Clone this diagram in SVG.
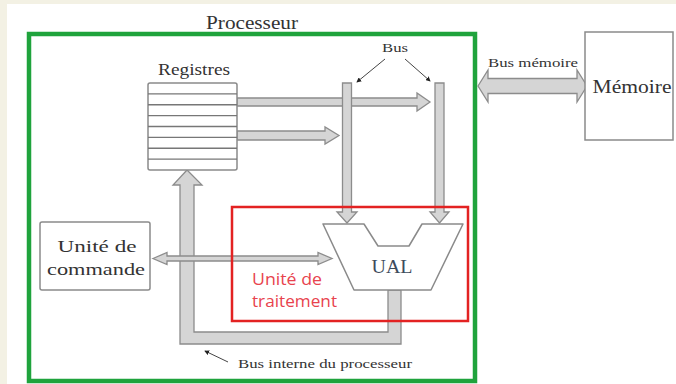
<svg xmlns="http://www.w3.org/2000/svg" width="676" height="384" viewBox="0 0 676 384">
<defs>
<style>
.lbl{font-family:"Liberation Serif","Times New Roman",serif;fill:#333;}
.bus{fill:#d5d5d5;stroke:#8c8c8c;stroke-width:1.3;stroke-linejoin:miter;}
.box{fill:#fff;stroke:#8a8a8a;stroke-width:1.5;}
.reg{stroke:#777;stroke-width:1.4;}
.ptr{stroke:#444;stroke-width:1;fill:none;}
</style>
<marker id="dot" viewBox="0 0 6 6" refX="5" refY="3" markerWidth="5" markerHeight="5" orient="auto" markerUnits="userSpaceOnUse">
<path d="M0,0 L6,3 L0,6 z" fill="#222"/>
</marker>
</defs>
<rect x="0" y="0" width="676" height="384" fill="#fff"/>
<rect x="0" y="0" width="676" height="4" fill="#f3f1e4"/>
<rect x="0" y="0" width="7" height="384" fill="#f3f1e4"/>

<g id="processeur">
<rect x="29" y="34" width="446" height="347" fill="none" stroke="#1fa33c" stroke-width="4.5"/>
<text class="lbl" x="252" y="29" font-size="19" text-anchor="middle" textLength="92" lengthAdjust="spacingAndGlyphs">Processeur</text>
</g>

<g id="connectors">
<!-- internal bus U-shape -->
<path class="bus" d="M401,290 L401,344 L180,344 L180,185 L173,185 L187,170 L202,185 L194,185 L194,332 L388,332 L388,290 Z"/>
<!-- register outputs -->
<path class="bus" d="M237,98 L417,98 L417,93 L430,102 L417,111 L417,106 L237,106 Z"/>
<path class="bus" d="M237,131 L325,131 L325,127 L339,135.5 L325,144 L325,140 L237,140 Z"/>
<!-- vertical buses -->
<path class="bus" d="M342.5,83 L351.5,83 L351.5,212 L357,212 L347,223 L337,212 L342.5,212 Z"/>
<path class="bus" d="M435,83 L444,83 L444,212 L449,212 L439.5,223 L430,212 L435,212 Z"/>
<!-- commande <-> UAL -->
<path class="bus" d="M153,258.5 L167,252.5 L167,256 L318,256 L318,252.5 L332,258.5 L318,264.5 L318,261 L167,261 L167,264.5 Z"/>
<!-- memory bus -->
<path class="bus" d="M478,86 L488,70 L488,78.5 L577,78.5 L577,70 L587,86 L577,102 L577,93.5 L488,93.5 L488,102 Z"/>
<!-- Bus pointers -->
<line class="ptr" x1="385" y1="59" x2="357" y2="82" marker-end="url(#dot)"/>
<line class="ptr" x1="405" y1="59" x2="430" y2="81" marker-end="url(#dot)"/>
<line class="ptr" x1="228" y1="362" x2="205" y2="351" marker-end="url(#dot)"/>
<text class="lbl" x="395" y="52" font-size="13" text-anchor="middle" textLength="26" lengthAdjust="spacingAndGlyphs">Bus</text>
<text class="lbl" x="533" y="67" font-size="13" text-anchor="middle" textLength="90" lengthAdjust="spacingAndGlyphs">Bus mémoire</text>
<text class="lbl" x="238" y="368" font-size="13.5" textLength="174" lengthAdjust="spacingAndGlyphs">Bus interne du processeur</text>
</g>

<g id="registres">
<rect class="box" x="148" y="83" width="89" height="87" rx="2" stroke="#777"/>
<line class="reg" x1="148" y1="93.9" x2="237" y2="93.9"/>
<line class="reg" x1="148" y1="104.8" x2="237" y2="104.8"/>
<line class="reg" x1="148" y1="115.6" x2="237" y2="115.6"/>
<line class="reg" x1="148" y1="126.5" x2="237" y2="126.5"/>
<line class="reg" x1="148" y1="137.4" x2="237" y2="137.4"/>
<line class="reg" x1="148" y1="148.3" x2="237" y2="148.3"/>
<line class="reg" x1="148" y1="159.1" x2="237" y2="159.1"/>
<text class="lbl" x="194" y="75" font-size="16" text-anchor="middle" textLength="72" lengthAdjust="spacingAndGlyphs">Registres</text>
</g>

<g id="memoire">
<rect class="box" x="585" y="32" width="88" height="108"/>
<text class="lbl" x="632" y="93" font-size="18" text-anchor="middle" textLength="79" lengthAdjust="spacingAndGlyphs">Mémoire</text>
</g>

<g id="commande">
<rect class="box" x="40" y="222" width="110" height="68" rx="2"/>
<text class="lbl" x="97" y="252" font-size="17" text-anchor="middle" textLength="79" lengthAdjust="spacingAndGlyphs">Unité de</text>
<text class="lbl" x="96" y="275" font-size="17" text-anchor="middle" textLength="98" lengthAdjust="spacingAndGlyphs">commande</text>
</g>

<g id="ual">
<polygon points="323,224 364,224 378,246 409,246 422,224 463,224 431,290 354,290" fill="#fff" stroke="#8a8a8a" stroke-width="1.5" stroke-linejoin="round"/>
<text x="392" y="273" font-family="Liberation Serif, serif" font-size="19" fill="#3d4b5c" text-anchor="middle" textLength="41" lengthAdjust="spacingAndGlyphs">UAL</text>
</g>

<g id="traitement">
<rect x="232" y="207" width="236" height="114" fill="none" stroke="#e32222" stroke-width="2.5"/>
<text x="252" y="285" font-family="Open Sans, Liberation Sans, sans-serif" font-size="16" fill="#e8434e" textLength="70" lengthAdjust="spacingAndGlyphs">Unité de</text>
<text x="252" y="307" font-family="Open Sans, Liberation Sans, sans-serif" font-size="16" fill="#e8434e" textLength="85" lengthAdjust="spacingAndGlyphs">traitement</text>
</g>
</svg>
